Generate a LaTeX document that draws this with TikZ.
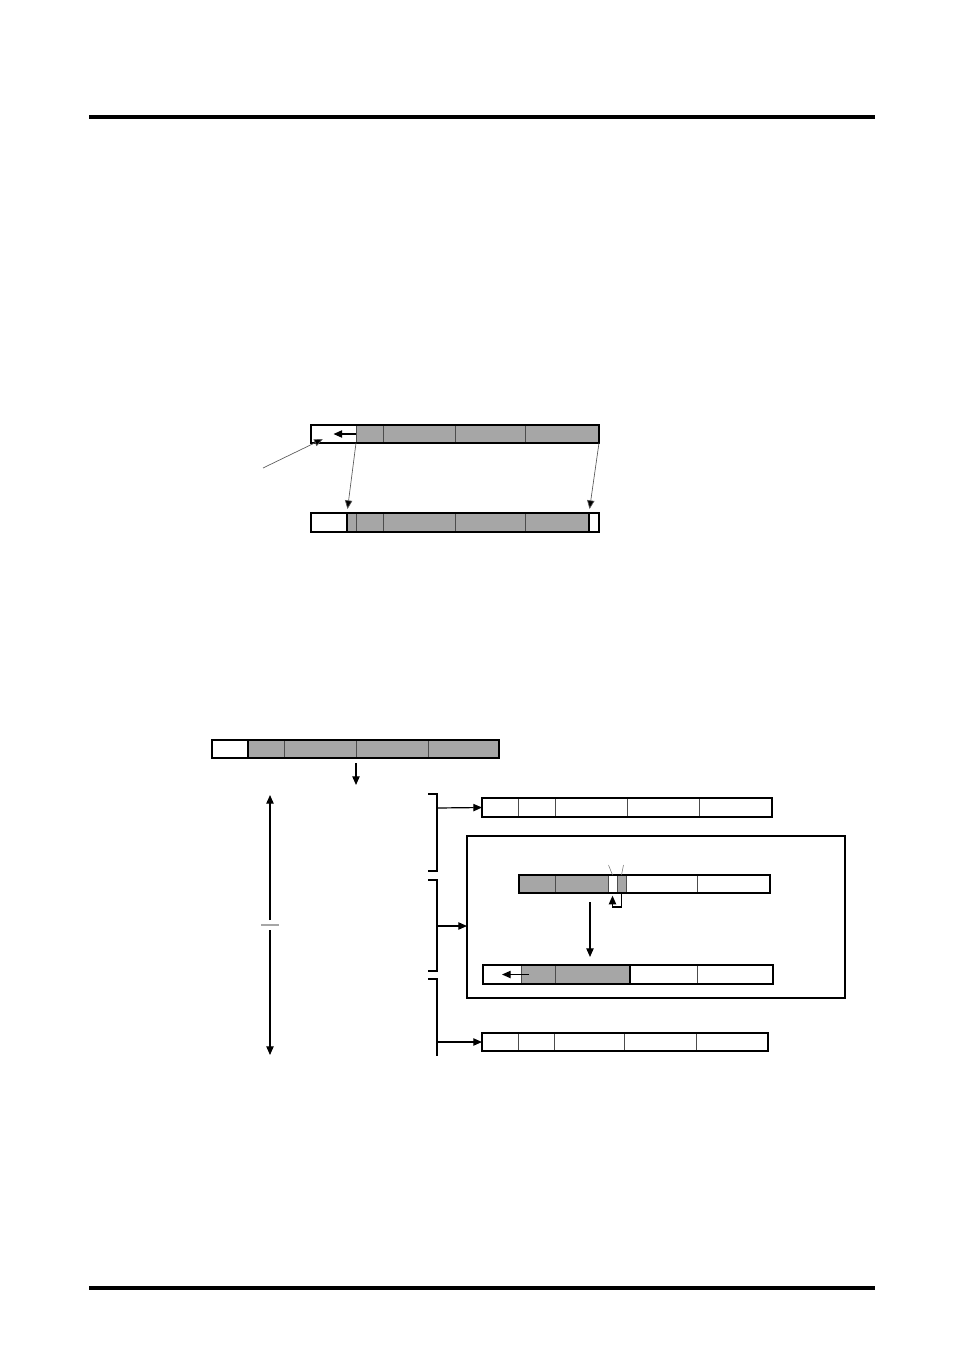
\documentclass[tikz,border=0pt]{standalone}
\usetikzlibrary{arrows.meta,fit}
\definecolor{cellgray}{HTML}{A6A6A6}
\tikzset{every picture/.style={line width=0.75pt}}
\tikzset{
  wcell/.style={draw=black!70,fill=white,inner sep=0pt,outer sep=0pt,line width=0.75pt},
  gcell/.style={wcell,fill=cellgray},
  barframe/.style={draw=black,line width=1.5pt,inner sep=0pt,outer sep=0pt},
  boxframe/.style={draw=black,line width=0.8pt,inner sep=0pt,outer sep=0pt},
  tip/.style={-{Triangle[length=6.5pt,width=5.5pt]},line width=0.9pt},
  thintip/.style={-{Triangle[length=6.5pt,width=5.5pt,fill=black]},draw=black!65,line width=0.5pt},
  rule/.style={line width=3pt},
  bracket/.style={line width=0.9pt},
  sepline/.style={line width=1.5pt}
}

\begin{document}
\begin{tikzpicture}[x=0.75pt,y=0.75pt,yscale=-1,xscale=1]
\useasboundingbox (0,0) rectangle (954,1348);

%Page rules
\coordinate (rl1) at (89,117); \coordinate (rr1) at (875,117);
\coordinate (rl2) at (89,1288); \coordinate (rr2) at (875,1288);
\draw[rule] (rl1) -- (rr1);
\draw[rule] (rl2) -- (rr2);

%Upper figure: bar before
\node[wcell, fit={(311,425) (356,443)}] (s1) {};
\node[gcell, fit={(356,425) (383,443)}] (s2) {};
\node[gcell, fit={(383,425) (455,443)}] (s3) {};
\node[gcell, fit={(455,425) (525,443)}] (s4) {};
\node[gcell, fit={(525,425) (599,443)}] (s5) {};
\node[barframe, fit=(s1)(s5)] (bar1) {};

%Upper figure: bar after
\node[wcell, fit={(311,513) (347,532)}] (r1) {};
\node[gcell, fit={(347,513) (356,532)}] (r2) {};
\node[gcell, fit={(356,513) (383,532)}] (r3) {};
\node[gcell, fit={(383,513) (455,532)}] (r4) {};
\node[gcell, fit={(455,513) (525,532)}] (r5) {};
\node[gcell, fit={(525,513) (589,532)}] (r6) {};
\node[wcell, fit={(589,513) (599,532)}] (r7) {};
\draw[sepline] (r2.north west) -- (r2.south west);
\draw[sepline] (r7.north west) -- (r7.south west);
\node[barframe, fit=(r1)(r7)] (bar2) {};

%Upper figure: arrows
\coordinate (p1) at (263,468);
\draw[tip] (s2.west) -- (s1.center);
\draw[thintip] (p1) -- ([xshift=-8pt,yshift=-3pt]s1.south);
\draw[thintip, shorten >=3pt] (s2.south west) -- (r2.north west);
\draw[thintip, shorten >=3pt] (s5.south east) -- (r7.north west);

%Lower figure: source bar
\node[wcell, fit={(212,740) (248,758)}] (m1) {};
\node[gcell, fit={(248,740) (284,758)}] (m2) {};
\node[gcell, fit={(284,740) (356,758)}] (m3) {};
\node[gcell, fit={(356,740) (428,758)}] (m4) {};
\node[gcell, fit={(428,740) (499,758)}] (m5) {};
\draw[sepline] (m2.north west) -- (m2.south west);
\node[barframe, fit=(m1)(m5)] (bar3) {};
\coordinate (q1) at (356,763); \coordinate (q2) at (356,785);
\draw[tip] (q1) -- (q2);

%Lower figure: range arrow
\coordinate (h0) at (270,795); \coordinate (h1) at (270,920);
\coordinate (h2) at (270,930); \coordinate (h3) at (270,1055);
\draw[tip] (h1) -- (h0);
\draw[tip] (h2) -- (h3);
\draw[black!35, line width=1pt] (261,925) -- (279,925);

%Lower figure: brackets
\draw[bracket] (428,794) -- (437,794) -- (437,871) -- (428,871);
\draw[bracket] (428,880) -- (437,880) -- (437,971) -- (428,971);
\draw[bracket] (428,979) -- (437,979) -- (437,1056);
\coordinate (k1) at (437,808);
\coordinate (k2) at (437,926);
\coordinate (k3) at (437,1042);

%Lower figure: first result bar
\node[wcell, fit={(482,798) (518,817)}] (a1) {};
\node[wcell, fit={(518,798) (555,817)}] (a2) {};
\node[wcell, fit={(555,798) (627,817)}] (a3) {};
\node[wcell, fit={(627,798) (699,817)}] (a4) {};
\node[wcell, fit={(699,798) (772,817)}] (a5) {};
\node[barframe, fit=(a1)(a5)] (bar4) {};

%Lower figure: framed case
\node[boxframe, fit={(467,836) (845,998)}] (frame) {};
\node[gcell, fit={(519,875) (555,893)}] (b1) {};
\node[gcell, fit={(555,875) (608,893)}] (b2) {};
\node[wcell, fit={(608,875) (617,893)}] (b3) {};
\node[gcell, fit={(617,875) (626,893)}] (b4) {};
\node[wcell, fit={(626,875) (697,893)}] (b5) {};
\node[wcell, fit={(697,875) (770,893)}] (b6) {};
\node[barframe, fit=(b1)(b6)] (bar5) {};
\draw[sepline] (b1.north west) -- (b1.south west);
\draw[black!55, line width=0.4pt] (b3.north) -- ++(-4,-10);
\draw[black!55, line width=0.4pt] (b4.north) -- ++(2,-10);
\draw[tip] (b4.south) -- ++(0,14) -| ([yshift=2pt]b3.south);

\node[wcell, fit={(483,965) (521,984)}] (c1) {};
\node[gcell, fit={(521,965) (555,984)}] (c2) {};
\node[gcell, fit={(555,965) (630,984)}] (c3) {};
\node[wcell, fit={(630,965) (697,984)}] (c4) {};
\node[wcell, fit={(697,965) (773,984)}] (c5) {};
\draw[sepline] (c4.north west) -- (c4.south west);
\node[barframe, fit=(c1)(c5)] (bar6) {};
\draw[tip] ([xshift=6pt]c2.west) -- (c1.center);
\coordinate (v1) at (590,902); \coordinate (v2) at (590,957);
\draw[tip] (v1) -- (v2);

%Lower figure: last result bar
\node[wcell, fit={(482,1033) (518,1051)}] (e1) {};
\node[wcell, fit={(518,1033) (554,1051)}] (e2) {};
\node[wcell, fit={(554,1033) (624,1051)}] (e3) {};
\node[wcell, fit={(624,1033) (696,1051)}] (e4) {};
\node[wcell, fit={(696,1033) (768,1051)}] (e5) {};
\node[barframe, fit=(e1)(e5)] (bar7) {};

%Lower figure: bracket arrows
\draw[tip] (k1) -- (a1.west);
\draw[tip] (k2) -- (k2 -| frame.west);
\draw[tip] (k3) -- (e1.west);

\end{tikzpicture}
\end{document}
